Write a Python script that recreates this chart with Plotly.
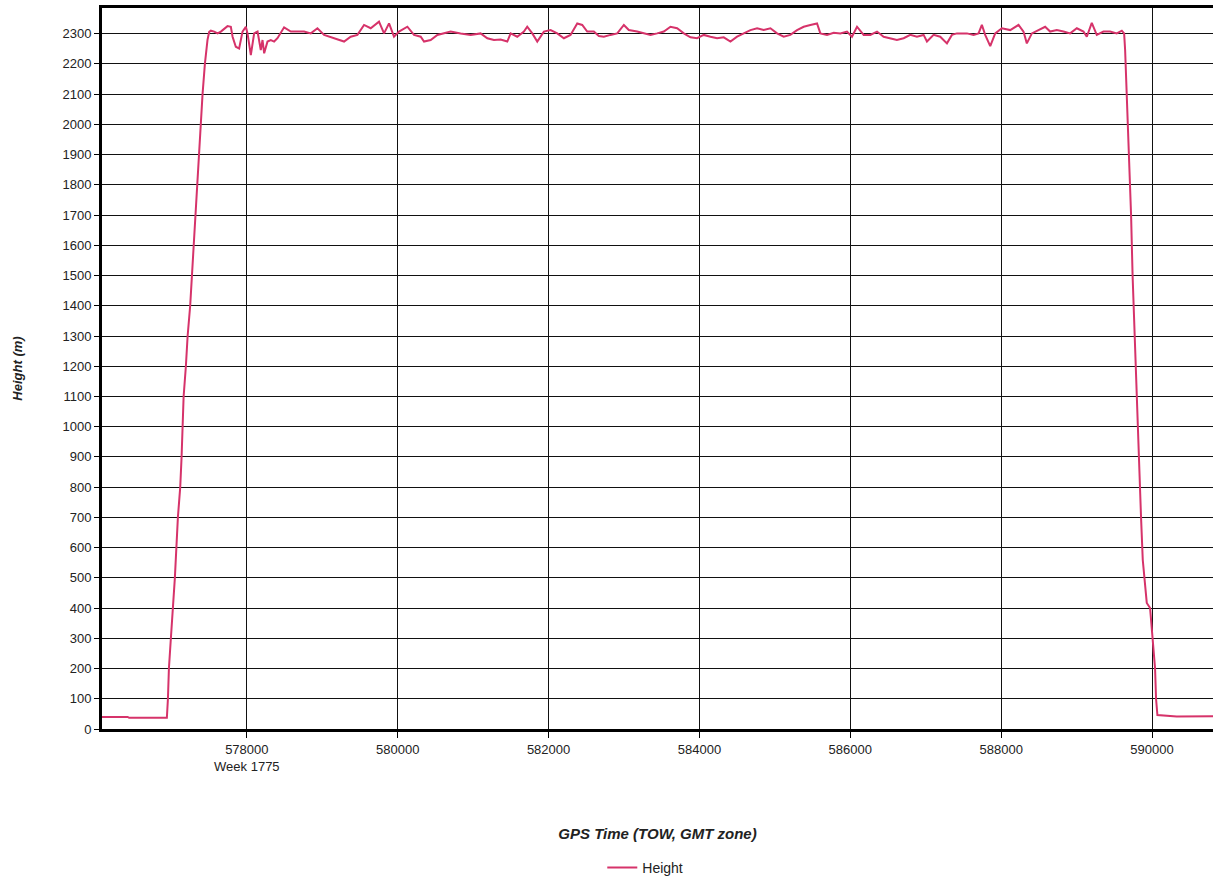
import plotly.graph_objects as go

# GPS time of week (s) and height (m)
gps_time = [
    576050, 576420, 576440, 576940,
    576954, 576967, 576993, 577046, 577086, 577117, 577135, 577148, 577162,
    577192, 577215, 577249, 577272, 577298, 577318, 577338, 577364, 577391,
    577413, 577444, 577479,
    577501, 577523, 577567, 577612, 577656, 577744, 577788, 577811, 577854,
    577898, 577943, 577987, 578009, 578053, 578097, 578142, 578185, 578208,
    578230, 578274, 578318, 578362, 578406, 578450, 578494, 578583, 578759,
    578848, 578936, 579024, 579113, 579201, 579289, 579377, 579466, 579554,
    579642, 579752, 579819, 579885, 579951, 580017, 580128, 580216, 580305,
    580349, 580437, 580526, 580614, 580702,
    580834, 580967, 581099, 581188, 581276, 581364, 581453, 581497, 581585,
    581673, 581717, 581784, 581850, 581938, 582027, 582115, 582203, 582291,
    582380, 582446, 582512, 582600, 582667, 582733, 582821, 582910, 582998,
    583064, 583174, 583263, 583351, 583439, 583528, 583616, 583704, 583793,
    583881, 583969, 584057, 584146, 584234, 584322, 584411, 584499, 584587,
    584676, 584764, 584852, 584941, 585029, 585117, 585205, 585294, 585382,
    585470, 585559,
    585603, 585691, 585780, 585868, 585956, 586022, 586089, 586177, 586265,
    586354, 586442, 586530, 586618, 586707, 586795, 586883, 586972, 587016,
    587104, 587192, 587281, 587347, 587413, 587546, 587634, 587700, 587744,
    587788, 587855, 587921, 588009, 588120, 588230, 588296, 588340, 588407,
    588495, 588583, 588649, 588738, 588826, 588914, 589003, 589091, 589135,
    589201, 589267, 589356, 589444, 589532, 589599, 589630,
    589643, 589656, 589670, 589682, 589695, 589722, 589742, 589768, 589801,
    589828, 589854, 589877, 589894, 589930, 589974, 590010, 590040, 590053,
    590071, 590327, 590900,
]
height_m = [
    40, 40, 37, 37,
    100, 200, 300, 500, 700, 800, 900, 1000, 1100,
    1200, 1300, 1400, 1500, 1600, 1700, 1800, 1900, 2000,
    2100, 2200, 2280,
    2306, 2310, 2307, 2301, 2307, 2325, 2323, 2290, 2257,
    2251, 2307, 2323, 2301, 2229, 2301, 2307, 2246, 2279,
    2235, 2274, 2279, 2274, 2285, 2301, 2321, 2307, 2307,
    2301, 2318, 2296, 2288, 2281, 2274, 2290, 2296, 2329,
    2318, 2340, 2301, 2334, 2290, 2307, 2323, 2296, 2290,
    2274, 2279, 2296, 2301, 2307,
    2301, 2296, 2301, 2285, 2279, 2281, 2274, 2301, 2290,
    2307, 2323, 2301, 2274, 2307, 2312, 2301, 2285, 2296,
    2334, 2329, 2307, 2307, 2292, 2290, 2296, 2301, 2329,
    2312, 2307, 2301, 2296, 2301, 2307, 2323, 2318, 2301,
    2288, 2285, 2296, 2290, 2285, 2288, 2274, 2290, 2301,
    2312, 2318, 2312, 2318, 2301, 2290, 2296, 2312, 2323,
    2329, 2334,
    2301, 2296, 2303, 2301, 2307, 2290, 2323, 2296, 2296,
    2307, 2290, 2285, 2279, 2285, 2296, 2290, 2296, 2274,
    2296, 2290, 2268, 2296, 2301, 2301, 2296, 2301, 2329,
    2296, 2259, 2301, 2318, 2312, 2329, 2307, 2268, 2301,
    2312, 2323, 2307, 2312, 2307, 2301, 2318, 2307, 2290,
    2336, 2296, 2307, 2307, 2301, 2310, 2301,
    2246, 2158, 2048, 2000, 1900, 1700, 1500, 1300, 1100,
    900, 700, 559, 516, 417, 400, 300, 200, 100,
    46, 41, 42,
]

x_tick_vals = [578000, 580000, 582000, 584000, 586000, 588000, 590000]
x_tick_text = ["578000<br>Week 1775", "580000", "582000", "584000",
               "586000", "588000", "590000"]
y_tick_vals = list(range(0, 2400, 100))

line_color = "#D6336A"
font_family = "Liberation Sans, Arial, sans-serif"

fig = go.Figure()
fig.add_trace(go.Scatter(
    x=gps_time, y=height_m, mode="lines", name="Height",
    line=dict(color=line_color, width=2),
))

fig.update_layout(
    width=1213, height=879,
    margin=dict(l=102, r=0, t=8, b=150),
    paper_bgcolor="white", plot_bgcolor="white",
    font=dict(family=font_family, size=13, color="#222"),
    showlegend=True,
    legend=dict(orientation="h", x=0.489, xanchor="center",
                yref="container", y=0.0125, yanchor="middle",
                font=dict(size=14, color="#222"), itemwidth=30),
)

fig.update_xaxes(
    range=[576080, 590808],
    tickmode="array", tickvals=x_tick_vals, ticktext=x_tick_text,
    showgrid=True, gridcolor="#111", gridwidth=1,
    showline=True, linecolor="black", linewidth=3, mirror=True,
    ticks="outside", ticklen=6, tickcolor="black",
    zeroline=False, automargin=False,
    tickfont=dict(size=13, color="#222"),
    title=dict(text="<b><i>GPS Time (TOW, GMT zone)</i></b>",
               font=dict(size=15, color="#222"), standoff=56),
)
fig.update_yaxes(
    range=[0, 2385],
    tickmode="array", tickvals=y_tick_vals,
    showgrid=True, gridcolor="#111", gridwidth=1,
    showline=True, linecolor="black", linewidth=3, mirror=False,
    ticks="outside", ticklen=5, tickcolor="black",
    zeroline=False, automargin=False,
    tickfont=dict(size=13, color="#222"),
    title=dict(text="<b><i>Height (m)</i></b>",
               font=dict(size=13, color="#222"), standoff=37),
)

fig.write_html(
    "out.html",
    config={"displayModeBar": False},
    post_script="document.body.style.margin='0';document.body.style.overflow='hidden';",
)
